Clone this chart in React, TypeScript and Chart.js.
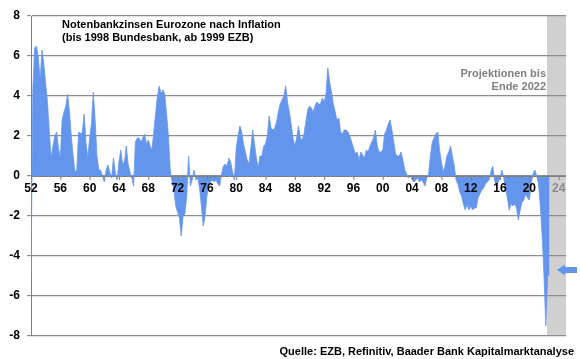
import React, { useEffect, useRef } from "react";
import { Chart, registerables } from "chart.js";

Chart.register(...registerables);

const START_YEAR = 1952;
const PERIODS_PER_YEAR = 4;
const X_MIN = 1952;
const X_MAX = 2025;
const X_TICKS = [1952, 1956, 1960, 1964, 1968, 1972, 1976, 1980, 1984, 1988, 1992, 1996, 2000, 2004, 2008, 2012, 2016, 2020, 2024];
const PROJECTION_START = 2022.4;
const ARROW_VALUE = -4.7;

const TITLE_LINES = [
  "Notenbankzinsen Eurozone nach Inflation",
  "(bis 1998 Bundesbank, ab 1999 EZB)",
];
const PROJECTION_LINES = ["Projektionen bis", "Ende 2022"];
const SOURCE = "Quelle: EZB, Refinitiv, Baader Bank Kapitalmarktanalyse";

// Quarterly real policy rate (%), 1952 Q1 ... 2022 Q4
const realRate = [
  -5.0, 4.3, 6.4, 6.5, // 1952
  5.9, 4.8, 6.3, 5.6, // 1953
  4.6, 3.7, 2.2, 0.9, // 1954
  1.5, 2.0, 2.2, 1.4, // 1955
  0.9, 2.8, 3.2, 3.5, // 1956
  4.1, 3.2, 2.0, 1.0, // 1957
  0.2, 0.3, 2.2, 2.1, // 1958
  2.2, 3.1, 1.7, 0.9, // 1959
  1.9, 2.6, 4.2, 2.8, // 1960
  1.0, 0.3, 0.3, 0.0, // 1961
  -0.3, 0.3, 0.55, 0.2, // 1962
  -0.1, 0.9, 0.2, -0.2, // 1963
  0.7, 1.3, 0.6, 0.7, // 1964
  1.5, 0.6, 0.2, -0.1, // 1965
  -0.5, 1.7, 1.9, 1.9, // 1966
  1.7, 1.9, 2.1, 1.6, // 1967
  1.8, 1.5, 1.3, 2.2, // 1968
  3.1, 4.0, 4.5, 4.1, // 1969
  4.3, 4.1, 3.1, 2.0, // 1970
  0.3, -0.3, -0.7, -1.5, // 1971
  -1.8, -2.1, -3.0, -2.0, // 1972
  -1.9, -1.0, 1.0, -0.5, // 1973
  -0.2, 0.3, -0.2, -0.1, // 1974
  -0.6, -1.5, -2.5, -2.0, // 1975
  -1.0, -0.4, -0.3, -0.2, // 1976
  -0.3, -0.2, -0.4, -0.5, // 1977
  0.1, 0.5, 0.6, 0.5, // 1978
  0.9, 0.7, 0.2, -0.2, // 1979
  1.4, 2.0, 2.5, 2.2, // 1980
  1.6, 1.2, 0.8, 0.6, // 1981
  1.4, 2.3, 1.6, 0.9, // 1982
  0.4, 1.0, 1.0, 1.5, // 1983
  1.6, 2.0, 3.0, 2.4, // 1984
  2.3, 2.4, 2.7, 3.2, // 1985
  3.6, 3.8, 4.0, 4.5, // 1986
  3.7, 3.2, 2.6, 1.9, // 1987
  1.5, 1.9, 2.5, 1.9, // 1988
  1.8, 2.1, 2.7, 3.3, // 1989
  3.5, 3.4, 3.2, 3.5, // 1990
  3.7, 3.6, 3.6, 3.9, // 1991
  3.7, 4.1, 5.4, 4.7, // 1992
  4.2, 3.6, 3.2, 2.8, // 1993
  2.9, 2.2, 2.1, 2.3, // 1994
  2.3, 2.2, 2.0, 1.7, // 1995
  1.4, 1.1, 1.2, 0.8, // 1996
  1.2, 1.05, 0.9, 1.3, // 1997
  1.2, 1.5, 1.7, 1.9, // 1998
  2.3, 1.5, 1.2, 1.2, // 1999
  1.3, 2.1, 2.3, 2.6, // 2000
  2.8, 2.3, 1.7, 1.1, // 2001
  1.0, 1.0, 1.2, 0.8, // 2002
  0.3, 0.1, -0.1, 0.05, // 2003
  -0.2, -0.3, -0.2, -0.1, // 2004
  -0.3, -0.2, -0.3, -0.5, // 2005
  -0.1, 0.1, 1.0, 1.7, // 2006
  1.9, 2.1, 2.2, 1.3, // 2007
  0.7, 0.2, 0.5, 1.0, // 2008
  1.2, 1.5, 1.0, 0.5, // 2009
  -0.2, -0.4, -0.8, -1.0, // 2010
  -1.4, -1.7, -1.4, -1.7, // 2011
  -1.5, -1.7, -1.6, -1.6, // 2012
  -1.1, -0.9, -0.7, -0.6, // 2013
  -0.4, -0.3, -0.2, 0.2, // 2014
  0.5, -0.2, -0.5, -0.3, // 2015
  -0.1, 0.3, -0.1, -0.6, // 2016
  -1.1, -1.7, -1.4, -1.5, // 2017
  -1.4, -1.6, -2.2, -1.7, // 2018
  -1.3, -1.2, -0.9, -1.1, // 2019
  -1.2, -0.4, 0.1, 0.3, // 2020
  0.0, -0.4, -1.5, -3.0, // 2021
  -5.0, -7.5, -5.0, -4.9, // 2022
];

const Y_MIN = -8;
const Y_MAX = 8;
const Y_STEP = 2;

const FONT_FAMILY = '"Liberation Sans", Arial, Helvetica, sans-serif';
const BLUE = "rgb(100,149,237)";

const App: React.FC = () => {
  const canvasRef = useRef<HTMLCanvasElement | null>(null);

  useEffect(() => {
    const canvas = canvasRef.current;
    if (!canvas) return;

    const points = realRate.map((v, i) => ({
      x: START_YEAR + i / PERIODS_PER_YEAR,
      y: v,
    }));

    const decor = {
      id: "decor",
      beforeDraw(chart: any) {
        const { ctx, chartArea, scales } = chart;
        const x0 = scales.x.getPixelForValue(PROJECTION_START);
        ctx.save();
        ctx.fillStyle = "#d0d0d0";
        ctx.fillRect(x0, chartArea.top, chartArea.right - x0, chartArea.bottom - chartArea.top);
        ctx.restore();
      },
      afterDraw(chart: any) {
        const { ctx, scales } = chart;
        ctx.save();
        // x-axis axis line and tick labels on top of the area
        const zeroY = scales.y.getPixelForValue(0);
        ctx.strokeStyle = "#808080";
        ctx.lineWidth = 1;
        ctx.beginPath();
        ctx.moveTo(chart.chartArea.left, zeroY + 0.5);
        ctx.lineTo(chart.chartArea.right, zeroY + 0.5);
        ctx.stroke();
        ctx.font = `bold 12px ${FONT_FAMILY}`;
        ctx.textAlign = "center";
        ctx.textBaseline = "middle";
        scales.x.ticks.forEach((t: any) => {
          const px = scales.x.getPixelForValue(t.value);
          ctx.beginPath();
          ctx.moveTo(px + 0.5, zeroY);
          ctx.lineTo(px + 0.5, zeroY + 4);
          ctx.stroke();
          ctx.fillStyle = t.value >= 2024 ? "#8c8c8c" : "#000";
          ctx.fillText(String(t.value % 100).padStart(2, "0"), px, zeroY + 13);
        });

        ctx.font = `bold 11px ${FONT_FAMILY}`;
        ctx.textBaseline = "middle";
        ctx.fillStyle = "#000";
        ctx.textAlign = "left";
        ctx.fillText(TITLE_LINES[0], 62, 25);
        ctx.fillText(TITLE_LINES[1], 62, 38);

        ctx.fillStyle = "#808080";
        ctx.textAlign = "right";
        ctx.fillText(PROJECTION_LINES[0], 546, 74);
        ctx.fillText(PROJECTION_LINES[1], 546, 87);

        ctx.fillStyle = "#000";
        ctx.fillText(SOURCE, 574, 352);

        // arrow
        const ay = scales.y.getPixelForValue(ARROW_VALUE);
        ctx.fillStyle = BLUE;
        ctx.beginPath();
        ctx.moveTo(557, ay);
        ctx.lineTo(565, ay - 5.5);
        ctx.lineTo(565, ay - 3);
        ctx.lineTo(577, ay - 3);
        ctx.lineTo(577, ay + 3);
        ctx.lineTo(565, ay + 3);
        ctx.lineTo(565, ay + 5.5);
        ctx.closePath();
        ctx.fill();
        ctx.restore();
      },
    };

    const chart = new Chart(canvas, {
      type: "line",
      data: {
        datasets: [
          {
            data: points,
            borderColor: BLUE,
            backgroundColor: BLUE,
            borderWidth: 0.8,
            pointRadius: 0,
            fill: "origin",
            tension: 0,
          },
        ],
      },
      options: {
        responsive: false,
        animation: false,
        events: [],
        layout: { padding: { top: 16, right: 14, bottom: 23, left: 0 } },
        plugins: {
          legend: { display: false },
          tooltip: { enabled: false },
          title: { display: false },
        },
        scales: {
          x: {
            type: "linear",
            min: X_MIN,
            max: X_MAX,
            position: { y: 0 } as any,
            afterBuildTicks: (s: any) => {
              s.ticks = X_TICKS.map((v) => ({ value: v }));
            },
            grid: { display: false, drawOnChartArea: false, drawTicks: false },
            border: { display: false },
            ticks: { display: false },
          },
          y: {
            min: Y_MIN,
            max: Y_MAX,
            afterFit: (s: any) => {
              s.width = 31;
            },
            grid: {
              color: "#8c8c8c",
              lineWidth: 1.2,
              drawTicks: true,
              tickLength: 4,
            },
            border: { display: true, color: "#808080", width: 1 },
            ticks: {
              stepSize: Y_STEP,
              padding: 7,
              font: { family: FONT_FAMILY, size: 12, weight: "bold" },
              color: "#000",
            },
          },
        },
      },
      plugins: [decor],
    });

    return () => chart.destroy();
  }, []);

  return (
    <div style={{ position: "absolute", left: 0, top: 0, width: 580, height: 359, background: "#fff" }}>
      <canvas ref={canvasRef} width={580} height={359} style={{ display: "block" }} />
    </div>
  );
};

export default App;
